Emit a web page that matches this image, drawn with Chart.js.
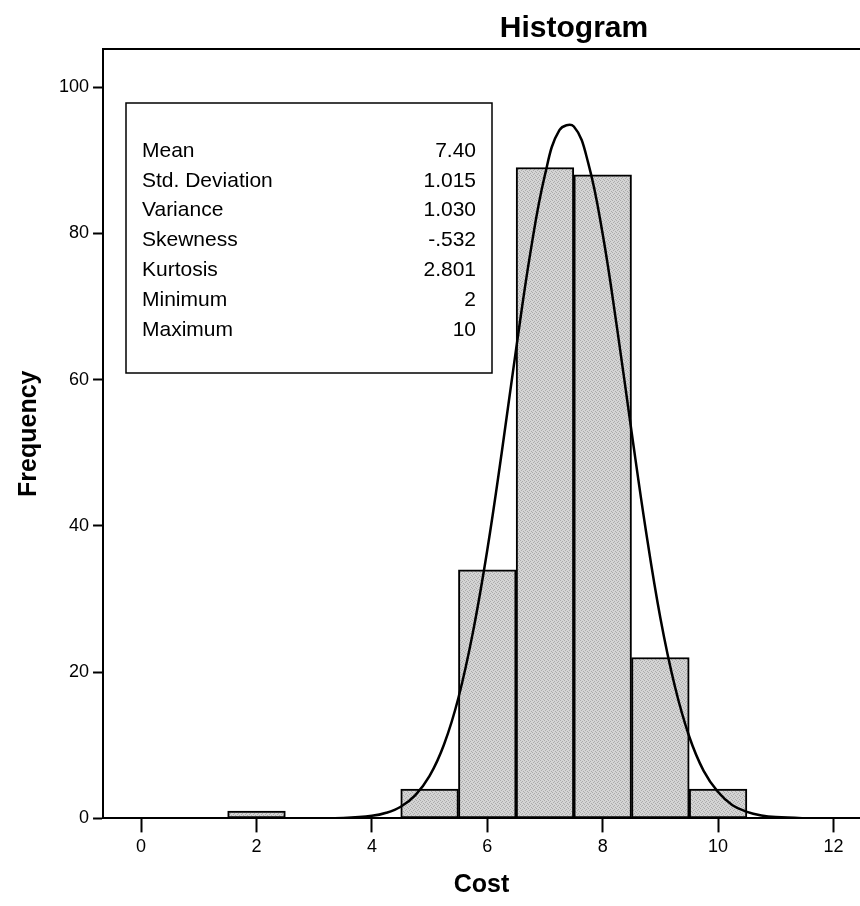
<!DOCTYPE html>
<html>
<head>
<meta charset="utf-8">
<script src="https://cdn.jsdelivr.net/npm/chart.js@4.4.1/dist/chart.umd.min.js"></script>
<style>
  html, body { margin: 0; padding: 0; background: #fff; overflow: hidden; }
  #wrap { width: 860px; height: 906px; }
</style>
</head>
<body>
<div id="wrap"><canvas id="myChart" width="860" height="906"></canvas></div>
<script>
// histogram bins (bin centre) and counts
var binCenters = [2, 5, 6, 7, 8, 9, 10];
var binCounts = [1, 4, 34, 89, 88, 22, 4];

// normal curve
var curveX = [3, 3.5, 4, 4.25, 4.5, 4.75, 5, 5.25, 5.5, 5.75, 6, 6.25, 6.5, 6.75, 7, 7.25, 7.5, 7.75, 8, 8.25, 8.5, 8.75, 9, 9.25, 9.5, 9.75, 10, 10.25, 10.5, 10.75, 11, 11.5, 12];
var curveY = [0.01, 0.06, 0.35, 0.77, 1.6, 3.15, 5.8, 10.1, 16.5, 25.4, 36.7, 50.0, 64.2, 77.5, 88.0, 94.1, 94.6, 89.6, 79.9, 67.0, 52.9, 39.3, 27.4, 18.1, 11.2, 6.5, 3.6, 1.8, 0.9, 0.41, 0.18, 0.03, 0.0];

var xTicks = [0, 2, 4, 6, 8, 10, 12];
var yTicks = [0, 20, 40, 60, 80, 100];

var statLabels = ['Mean', 'Std. Deviation', 'Variance', 'Skewness', 'Kurtosis', 'Minimum', 'Maximum'];
var statValues = ['7.40', '1.015', '1.030', '-.532', '2.801', '2', '10'];

var FONT = "'Liberation Sans', Arial, sans-serif";

function makePattern(){
  var c = document.createElement('canvas');
  c.width = 4; c.height = 4;
  var g = c.getContext('2d');
  g.fillStyle = '#d4d4d4';
  g.fillRect(0, 0, 4, 4);
  g.fillStyle = '#ababab';
  g.fillRect(0, 0, 1, 1);
  g.fillRect(2, 1, 1, 1);
  g.fillRect(1, 2, 1, 1);
  g.fillRect(3, 3, 1, 1);
  return g.createPattern(c, 'repeat');
}

// top frame, title and the statistics box
var extras = {
  id: 'extras',
  afterDraw: function(chart){
    var ctx = chart.ctx;
    var a = chart.chartArea;
    ctx.save();
    ctx.strokeStyle = '#000';
    ctx.lineWidth = 2;
    ctx.beginPath();
    ctx.moveTo(a.left, a.top);
    ctx.lineTo(chart.width, a.top);
    ctx.stroke();

    ctx.fillStyle = '#000';
    ctx.font = 'bold 30px ' + FONT;
    ctx.textAlign = 'center';
    ctx.textBaseline = 'alphabetic';
    ctx.fillText('Histogram', 574, 37);

    // stats box
    ctx.fillStyle = '#fff';
    ctx.fillRect(126, 103, 366, 270);
    ctx.lineWidth = 1.5;
    ctx.strokeRect(126, 103, 366, 270);
    ctx.fillStyle = '#000';
    ctx.font = '21px ' + FONT;
    ctx.textBaseline = 'middle';
    for (var i = 0; i < statLabels.length; i++) {
      var y = 151 + i * 29.8;
      ctx.textAlign = 'left';
      ctx.fillText(statLabels[i], 142, y);
      ctx.textAlign = 'right';
      ctx.fillText(statValues[i], 476, y);
    }
    ctx.restore();
  }
};

function init(){
  var ctx = document.getElementById('myChart');
  var barData = binCenters.map(function(x, i){ return {x: x, y: binCounts[i]}; });
  var lineData = curveX.map(function(x, i){ return {x: x, y: curveY[i]}; });

  new Chart(ctx, {
    data: {
      datasets: [{
        type: 'line',
        data: lineData,
        borderColor: '#000',
        borderWidth: 2.5,
        pointRadius: 0,
        tension: 0.4,
        fill: false,
        order: 0
      }, {
        type: 'bar',
        data: barData,
        backgroundColor: makePattern(),
        borderColor: '#000',
        borderWidth: 2,
        borderSkipped: false,
        barPercentage: 1,
        categoryPercentage: 1,
        order: 1
      }]
    },
    options: {
      responsive: false,
      animation: false,
      layout: { padding: { top: 49, right: 0, left: 0, bottom: 0 } },
      plugins: { legend: { display: false }, tooltip: { enabled: false } },
      scales: {
        x: {
          type: 'linear',
          offset: false,
          min: -0.66,
          max: 12.46,
          afterBuildTicks: function(s){ s.ticks = xTicks.map(function(v){ return {value: v}; }); },
          grid: { offset: false, drawOnChartArea: false, tickLength: 14, tickColor: '#000', tickWidth: 2 },
          border: { color: '#000', width: 2 },
          ticks: { color: '#000', font: { size: 18, family: FONT }, padding: 4, maxRotation: 0 },
          title: { display: true, text: 'Cost', color: '#000', font: { size: 25, weight: 'bold', family: FONT }, padding: { top: 8, bottom: 6 } }
        },
        y: {
          min: 0,
          max: 105.2,
          afterBuildTicks: function(s){ s.ticks = yTicks.map(function(v){ return {value: v}; }); },
          grid: { drawOnChartArea: false, tickLength: 10, tickColor: '#000', tickWidth: 2 },
          border: { color: '#000', width: 2 },
          ticks: { color: '#000', font: { size: 18, family: FONT }, padding: 4 },
          title: { display: true, text: 'Frequency', color: '#000', font: { size: 25, weight: 'bold', family: FONT }, padding: { top: 14, bottom: 11 } }
        }
      }
    },
    plugins: [extras]
  });
}

init();
</script>
</body>
</html>
